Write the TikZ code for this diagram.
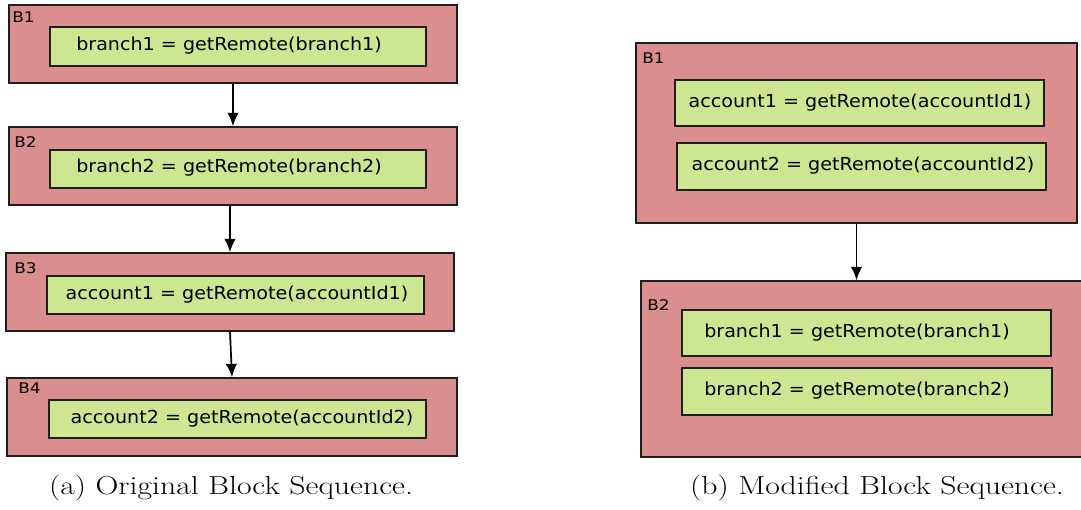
\documentclass[tikz,border=0pt]{standalone}
\usepackage{fontspec}
\usepackage{graphicx}
\usetikzlibrary{arrows.meta,fit}
\newfontfamily\blkfont{DejaVu Sans}
\definecolor{outerfill}{RGB}{219,142,142}
\definecolor{innerfill}{RGB}{204,230,146}
\definecolor{edgecol}{RGB}{30,30,30}
\newcommand{\codetxt}[1]{\scalebox{1.07}[1]{\blkfont\fontsize{13.4}{15}\selectfont #1}}
\newcommand{\blklabel}[1]{\scalebox{1.15}[1]{\blkfont\fontsize{11}{13}\selectfont #1}}
\newcommand{\captxt}[1]{\scalebox{1.22}[1]{\fontsize{19.5}{22}\selectfont #1}}
\begin{document}
\begin{tikzpicture}[x=0.75pt,y=-0.75pt,
  outerbox/.style={draw=edgecol,fill=outerfill,line width=1.1pt,inner sep=0pt},
  innerbox/.style={draw=edgecol,fill=innerfill,line width=1.1pt,inner sep=0pt},
  codelabel/.style={inner sep=0pt,anchor=center},
  blocklabel/.style={inner sep=0pt,anchor=base west},
  captionlabel/.style={inner sep=0pt,anchor=base},
  flow/.style={draw=black,line width=1.3pt,-{Latex[length=10pt,width=8.5pt]}}]
\useasboundingbox (0,0) rectangle (1081,510);
% ---------- left column ----------
\node[outerbox,fit={(9,5) (457,83)}] (L1) {};
\node[innerbox,fit={(50,27) (426,66)}] (L1a) {};
\node[codelabel] (L1at) at (229,46) {\codetxt{branch1 = getRemote(branch1)}};
\node[blocklabel] (L1l) at (12,23) {\blklabel{B1}};

\node[outerbox,fit={(9,127) (457,205)}] (L2) {};
\node[innerbox,fit={(50,150) (426,188)}] (L2a) {};
\node[codelabel] (L2at) at (229,168) {\codetxt{branch2 = getRemote(branch2)}};
\node[blocklabel] (L2l) at (14,147) {\blklabel{B2}};

\node[outerbox,fit={(6,253) (454,331)}] (L3) {};
\node[innerbox,fit={(47,276) (424,314)}] (L3a) {};
\node[codelabel] (L3at) at (237,295) {\codetxt{account1 = getRemote(accountId1)}};
\node[blocklabel] (L3l) at (14,273) {\blklabel{B3}};

\node[outerbox,fit={(7,378) (457,456)}] (L4) {};
\node[innerbox,fit={(49,400) (426,438)}] (L4a) {};
\node[codelabel] (L4at) at (242,419) {\codetxt{account2 = getRemote(accountId2)}};
\node[blocklabel] (L4l) at (18,393) {\blklabel{B4}};

\draw[flow] (L1.south) -- (L1.south |- L2.north);
\draw[flow] (L2.south -| L3.north) -- (L3.north);
\draw[flow] (L3.south) -- (L4.north);

\node[captionlabel] (capa) at (231,494) {\captxt{(a) Original Block Sequence.}};

% ---------- right column ----------
\node[outerbox,fit={(636,43) (1077,223)}] (R1) {};
\node[innerbox,fit={(675,80) (1044,126)}] (R1a) {};
\node[codelabel] (R1at) at (860,103) {\codetxt{account1 = getRemote(accountId1)}};
\node[innerbox,fit={(677,143) (1046,190)}] (R1b) {};
\node[codelabel] (R1bt) at (863,166) {\codetxt{account2 = getRemote(accountId2)}};
\node[blocklabel] (R1l) at (642,64) {\blklabel{B1}};

\node[outerbox,fit={(641,281) (1090,457)}] (R2) {};
\node[innerbox,fit={(682,310) (1051,356)}] (R2a) {};
\node[codelabel] (R2at) at (857,333) {\codetxt{branch1 = getRemote(branch1)}};
\node[innerbox,fit={(682,368) (1052,415)}] (R2b) {};
\node[codelabel] (R2bt) at (857,391) {\codetxt{branch2 = getRemote(branch2)}};
\node[blocklabel] (R2l) at (647,310) {\blklabel{B2}};

\draw[flow] (R1.south) -- (R1.south |- R2.north);

\node[captionlabel] (capb) at (877,494) {\captxt{(b) Modified Block Sequence.}};
\end{tikzpicture}
\end{document}
